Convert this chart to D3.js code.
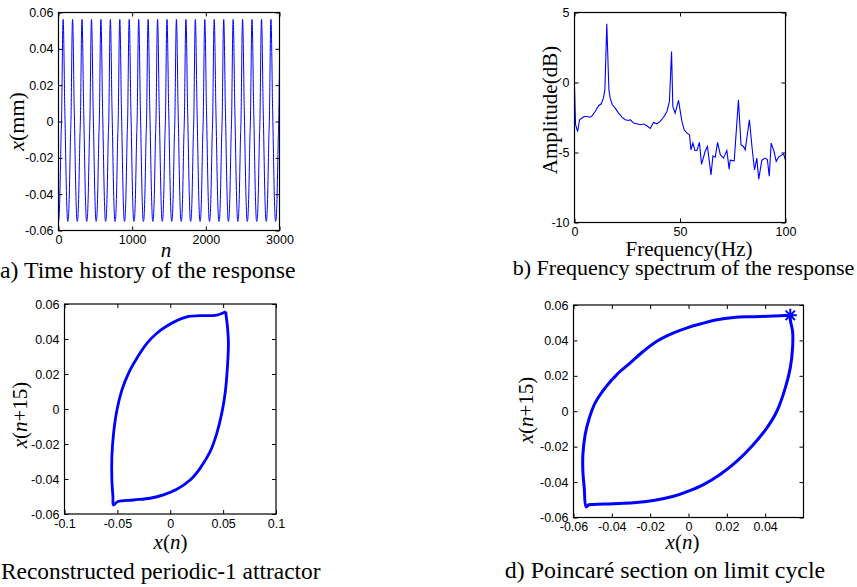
<!DOCTYPE html>
<html>
<head>
<meta charset="utf-8">
<script src="https://cdn.jsdelivr.net/npm/d3@7"></script>
<style>
  body { margin: 0; background: #fff; }
  svg { display: block; }
  .tick text { font-family: "Liberation Sans", Arial, sans-serif; font-size: 12.5px; fill: #000; }
  .lbl { font-family: "Liberation Serif", "Times New Roman", serif; fill: #000; }
</style>
</head>
<body>
<svg id="fig" width="857" height="587"></svg>
<script>
// ---- (a) time history: crest positions (sample n) and the shape of one cycle around a crest
const crestN = [63, 191, 319, 448, 576, 704, 832, 960, 1089, 1217, 1345, 1473, 1601, 1730, 1858, 1986, 2114, 2243, 2371, 2499, 2627, 2756, 2884, 3012];
const cycleOffset = [-64, -58, -52, -44, -36, -28, -24, -20, -14, -8, -4, 0, 4, 8, 14, 20, 24, 28, 36, 44, 52, 58];
const cycleValue = [-0.0550, -0.0540, -0.050, -0.040, -0.024, -0.008, -0.003, 0.004, 0.024, 0.045, 0.0535, 0.0562, 0.0535, 0.046, 0.030, 0.012, 0.004, -0.004, -0.022, -0.038, -0.049, -0.054];
const aTicksX = [0, 1000, 2000, 3000];
const aTicksY = [-0.06, -0.04, -0.02, 0, 0.02, 0.04, 0.06];

// ---- (b) frequency spectrum
const freqHz = [0, 0.5, 1.5, 2.4, 3.4, 4.6, 5.9, 7.4, 8.2, 9.8, 11.4, 12.7, 13.7, 14.4, 15.3, 16.3, 16.9, 17.9, 19.3, 20.9,
  22.5, 24.0, 25.6, 26.4, 28.0, 29.6, 31.1, 32.7, 34.3, 35.9, 37.4, 39.0, 40.6, 42.2, 43.8, 45.0, 46.0, 46.6, 47.7, 49.3,
  50.9, 52.0, 53.3, 54.5, 55.2, 56.1, 57.1, 58.0, 59.2, 60.2, 61.9, 63.0, 64.7, 65.6, 66.7, 67.8, 69.1, 70.6, 72.2, 73.3,
  73.8, 75.7, 77.7, 78.9, 80.1, 80.9, 82.9, 84.1, 85.3, 86.4, 87.3, 88.8, 90.4, 91.4, 92.3, 93.2, 94.6, 95.6, 96.7, 99.1, 100];
const ampDb = [-0.33, -3.02, -3.5, -2.66, -2.55, -2.43, -2.43, -2.48, -2.4, -2.07, -1.66, -1.52, -1.12, -0.52, 4.19, -0.52, -1.12, -1.59, -1.83, -2.19,
  -2.48, -2.66, -2.71, -2.66, -2.9, -2.95, -3.02, -2.97, -3.09, -3.28, -2.85, -2.95, -2.78, -2.48, -2.07, -1.35, 2.21, -1.71, -2.19, -1.28,
  -2.78, -3.38, -3.62, -3.74, -4.81, -4.33, -4.86, -4.86, -4.28, -5.85, -4.93, -4.57, -6.6, -5.24, -5.33, -4.28, -5.16, -5.4, -4.86, -6.2,
  -5.55, -5.6, -1.24, -4.45, -4.57, -4.81, -2.66, -4.57, -6.25, -5.4, -6.9, -5.55, -5.4, -5.5, -6.7, -4.33, -4.93, -5.64, -5.33, -5.09, -5.55];
const bTicksX = [0, 50, 100];
const bTicksY = [-10, -5, 0, 5];

// ---- (c) reconstructed attractor x(n) vs x(n+15)
const cLoopX = [0.0525, 0.0440, 0.0282, 0.0157, 0.0062, -0.0032, -0.0127, -0.0221, -0.0316, -0.0395, -0.0457, -0.0504, -0.0536, -0.0552, -0.0552, -0.0542, -0.0537, -0.0499,
  -0.0348, -0.0190, -0.0064, 0.0062, 0.0188, 0.0282, 0.0377, 0.0440, 0.0487, 0.0519, 0.0541, 0.0550, 0.0541, 0.0528, 0.0525];
const cLoopY = [0.0556, 0.0537, 0.0533, 0.0527, 0.0505, 0.0474, 0.0433, 0.0375, 0.0290, 0.0204, 0.0109, -0.0006, -0.0139, -0.0273, -0.0406, -0.0501, -0.0549, -0.0530,
  -0.0520, -0.0510, -0.0491, -0.0459, -0.0406, -0.0339, -0.0244, -0.0139, -0.0025, 0.0090, 0.0242, 0.0375, 0.0470, 0.0537, 0.0556];
const cTicksX = [-0.1, -0.05, 0, 0.05, 0.1];
const cTicksY = [-0.06, -0.04, -0.02, 0, 0.02, 0.04, 0.06];

// ---- (d) limit cycle with Poincare point
const dLoopX = [0.0531, 0.0444, 0.0339, 0.0235, 0.0148, 0.0061, 0.0, -0.0078, -0.0165, -0.0235, -0.0304, -0.0374, -0.0435, -0.0487, -0.0517, -0.0539, -0.0551, -0.0551, -0.0544, -0.0534, -0.0520,
  -0.0496, -0.0392, -0.0287, -0.0183, -0.0078, 0.0, 0.0078, 0.0165, 0.0253, 0.0339, 0.0409, 0.0461, 0.0505, 0.0531, 0.0543, 0.0543, 0.0531, 0.0531];
const dLoopY = [0.0542, 0.0538, 0.0534, 0.0530, 0.0517, 0.0493, 0.0474, 0.0442, 0.0395, 0.0339, 0.0273, 0.0207, 0.0132, 0.0047, -0.0037, -0.0131, -0.0244, -0.0339, -0.0432, -0.0540, -0.0528,
  -0.0526, -0.0522, -0.0517, -0.0504, -0.0480, -0.0451, -0.0414, -0.0357, -0.0282, -0.0188, -0.0094, 0.0, 0.0132, 0.0245, 0.0358, 0.0451, 0.0517, 0.0542];
const poincareX = [0.0531];
const poincareY = [0.0542];
const dTicksX = [-0.06, -0.04, -0.02, 0, 0.02, 0.04];
const dTicksY = [-0.06, -0.04, -0.02, 0, 0.02, 0.04, 0.06];

const blue = '#0000ff';
const svg = d3.select('#fig');
const fmt = d => String(d);

function box(id, x, y, ticksX, ticksY) {
  const g = svg.append('g');
  const [x0, x1] = x.range(), [y0, y1] = y.range();
  g.append('g').attr('transform', `translate(0,${y0})`)
    .call(d3.axisBottom(x).tickValues(ticksX).tickSize(-4).tickPadding(5).tickFormat(fmt));
  g.append('g').attr('transform', `translate(${x0},0)`)
    .call(d3.axisLeft(y).tickValues(ticksY).tickSize(-4).tickPadding(5).tickFormat(fmt));
  g.append('g').attr('transform', `translate(0,${y1})`)
    .call(d3.axisTop(x).tickValues(ticksX).tickSize(-4).tickFormat(''));
  g.append('g').attr('transform', `translate(${x1},0)`)
    .call(d3.axisRight(y).tickValues(ticksY).tickSize(-4).tickFormat(''));
  g.selectAll('.domain').remove();
  g.selectAll('.tick line').attr('stroke', '#000');
  svg.append('clipPath').attr('id', id).append('rect')
    .attr('x', x0).attr('y', y1).attr('width', x1 - x0).attr('height', y0 - y1);
  g.append('rect').attr('x', x0).attr('y', y1).attr('width', x1 - x0).attr('height', y0 - y1)
    .attr('fill', 'none').attr('stroke', '#000').attr('stroke-width', 1.2);
  return g;
}

function label(x, y, parts, size, rotate, anchor) {
  const t = svg.append('text').attr('class', 'lbl')
    .attr('transform', `translate(${x},${y})` + (rotate ? ' rotate(-90)' : ''))
    .attr('text-anchor', anchor || 'middle').attr('font-size', size);
  parts.forEach(p => t.append('tspan').attr('font-style', p[1] ? 'italic' : 'normal').text(p[0]));
}

// (a)
{
  const x = d3.scaleLinear().domain([0, 3000]).range([58.5, 279.5]);
  const y = d3.scaleLinear().domain([-0.06, 0.06]).range([230.5, 12.5]);
  const series = crestN.flatMap(c => cycleOffset.map((o, i) => [c + o, cycleValue[i]]));
  svg.append('path').datum(series).attr('clip-path', 'url(#clipA)')
    .attr('fill', 'none').attr('stroke', blue).attr('stroke-width', 1)
    .attr('d', d3.line().x(d => x(d[0])).y(d => y(d[1])).curve(d3.curveMonotoneX));
  box('clipA', x, y, aTicksX, aTicksY);
  label(23.5, 121.5, [['x', true], ['(mm)', false]], 22, true);
  label(166, 257, [['n', true]], 21);
  label(0, 278, [['a) Time history of the response', false]], 23.8, false, 'start');
}

// (b)
{
  const x = d3.scaleLinear().domain([0, 100]).range([574.5, 785.5]);
  const y = d3.scaleLinear().domain([-10, 5]).range([222.5, 12.5]);
  svg.append('path').datum(d3.zip(freqHz, ampDb)).attr('clip-path', 'url(#clipB)')
    .attr('fill', 'none').attr('stroke', blue).attr('stroke-width', 1.1)
    .attr('d', d3.line().x(d => x(d[0])).y(d => y(d[1])));
  box('clipB', x, y, bTicksX, bTicksY);
  label(556.5, 110, [['Amplitude(dB)', false]], 21, true);
  label(689, 255.5, [['Frequency(Hz)', false]], 21);
  label(683.5, 275, [['b) Frequency spectrum of the response', false]], 22);
}

// (c)
{
  const x = d3.scaleLinear().domain([-0.1, 0.1]).range([64.5, 276]);
  const y = d3.scaleLinear().domain([-0.06, 0.06]).range([514, 304]);
  svg.append('path').datum(d3.zip(cLoopX, cLoopY))
    .attr('fill', 'none').attr('stroke', blue).attr('stroke-width', 2.8).attr('stroke-linejoin', 'round')
    .attr('d', d3.line().x(d => x(d[0])).y(d => y(d[1])).curve(d3.curveCatmullRom));
  box('clipC', x, y, cTicksX, cTicksY);
  label(27, 415, [['x', true], ['(', false], ['n', true], ['+15)', false]], 21, true);
  label(170.5, 549, [['x', true], ['(', false], ['n', true], [')', false]], 21);
  label(1, 579, [['Reconstructed periodic-1 attractor', false]], 23.4, false, 'start');
}

// (d)
{
  const x = d3.scaleLinear().domain([-0.06, 0.06]).range([573.5, 803.5]);
  const y = d3.scaleLinear().domain([-0.06, 0.06]).range([517.5, 305]);
  svg.append('path').datum(d3.zip(dLoopX, dLoopY))
    .attr('fill', 'none').attr('stroke', blue).attr('stroke-width', 3).attr('stroke-linejoin', 'round')
    .attr('d', d3.line().x(d => x(d[0])).y(d => y(d[1])).curve(d3.curveCatmullRom));
  const r = 6.5, q = r * 0.72;
  svg.selectAll('path.star').data(d3.zip(poincareX, poincareY)).join('path').attr('class', 'star')
    .attr('transform', d => `translate(${x(d[0])},${y(d[1])})`)
    .attr('d', `M${-r},0H${r}M0,${-r}V${r}M${-q},${-q}L${q},${q}M${-q},${q}L${q},${-q}`)
    .attr('stroke', blue).attr('stroke-width', 2).attr('fill', 'none');
  box('clipD', x, y, dTicksX, dTicksY);
  label(533, 410, [['x', true], ['(', false], ['n', true], ['+15)', false]], 21, true);
  label(682.5, 548.5, [['x', true], ['(', false], ['n', true], [')', false]], 21);
  label(665, 578, [['d) Poincaré section on limit cycle', false]], 23.9);
}
</script>
</body>
</html>
